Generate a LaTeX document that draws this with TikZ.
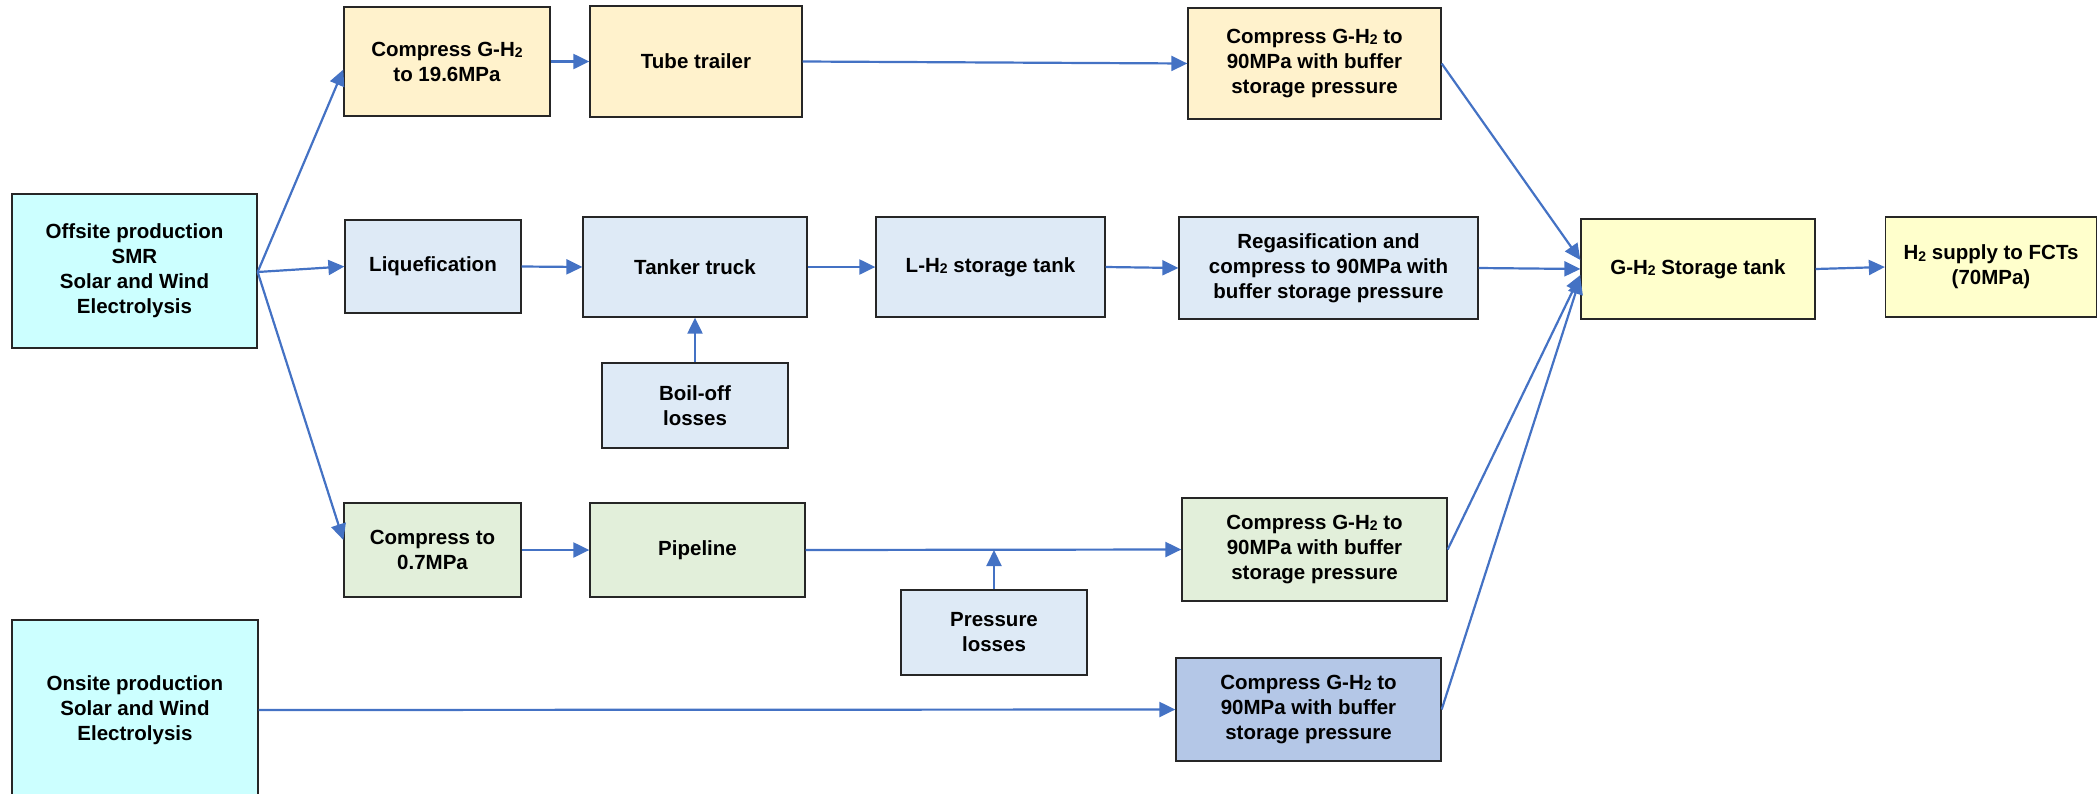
\documentclass[tikz,border=0pt]{standalone}
\usepackage{fontspec}
\setmainfont{Liberation Sans}
\usetikzlibrary{arrows.meta,calc}
\definecolor{arrowblue}{HTML}{4472C4}
\definecolor{cyanbg}{HTML}{CCFFFF}
\definecolor{yellowbg}{HTML}{FFF2CC}
\definecolor{lbluebg}{HTML}{DEEAF6}
\definecolor{greenbg}{HTML}{E2EFDA}
\definecolor{bluebg}{HTML}{B4C7E7}
\definecolor{lyellowbg}{HTML}{FFFFCC}
\newcommand{\Htwo}{H\raisebox{-1.5pt}{\fontsize{14}{14}\selectfont 2}}
\begin{document}
\begin{tikzpicture}[x=1pt,y=-1pt,
  box/.style={draw=black!85, line width=1.3pt, align=center, inner sep=0pt,
    font=\fontsize{20.5}{25}\selectfont\bfseries},
  conn/.style={draw=arrowblue, line width=2.2pt, -{Triangle[length=16pt,width=15pt]}}]
\useasboundingbox (0,0) rectangle (2099,793);
% nodes
\node[box, fill=cyanbg, minimum width=245pt, minimum height=154pt] (off) at (134.5,271)
  {Offsite production\\SMR\\Solar and Wind\\Electrolysis};
\node[box, fill=yellowbg, minimum width=206pt, minimum height=109pt] (c196) at (447,61.5)
  {Compress G-\Htwo\\to 19.6MPa};
\node[box, fill=yellowbg, minimum width=212pt, minimum height=111pt] (tube) at (696,61.5)
  {Tube trailer};
\node[box, fill=yellowbg, minimum width=253pt, minimum height=111pt] (cy) at (1314.5,63.5)
  {Compress G-\Htwo{} to\\90MPa with buffer\\storage pressure};
\node[box, fill=lbluebg, minimum width=176pt, minimum height=93pt] (liq) at (433,266.5)
  {Liquefication};
\node[box, fill=lbluebg, minimum width=224pt, minimum height=100pt] (tank) at (695,267)
  {Tanker truck};
\node[box, fill=lbluebg, minimum width=229pt, minimum height=100pt] (lh2) at (990.5,267)
  {L-\Htwo{} storage tank};
\node[box, fill=lbluebg, minimum width=299pt, minimum height=102pt] (regas) at (1328.5,268)
  {Regasification and\\compress to 90MPa with\\buffer storage pressure};
\node[box, fill=lyellowbg, minimum width=234pt, minimum height=100pt] (gst) at (1698,269)
  {G-\Htwo{} Storage tank};
\node[box, fill=lyellowbg, minimum width=211pt, minimum height=100pt] (sup) at (1991,267)
  {\Htwo{} supply to FCTs\\(70MPa)};
\node[box, fill=lbluebg, minimum width=186pt, minimum height=85pt] (boil) at (695,405.5)
  {Boil-off\\losses};
\node[box, fill=greenbg, minimum width=177pt, minimum height=94pt] (c07) at (432.5,550)
  {Compress to\\0.7MPa};
\node[box, fill=greenbg, minimum width=215pt, minimum height=94pt] (pipe) at (697.5,550)
  {Pipeline};
\node[box, fill=greenbg, minimum width=265pt, minimum height=103pt] (cg) at (1314.5,549.5)
  {Compress G-\Htwo{} to\\90MPa with buffer\\storage pressure};
\node[box, fill=lbluebg, minimum width=186pt, minimum height=85pt] (press) at (994,632.5)
  {Pressure\\losses};
\node[box, fill=cyanbg, minimum width=246pt, minimum height=180pt] (on) at (135,710)
  {Onsite production\\Solar and Wind\\Electrolysis};
\node[box, fill=bluebg, minimum width=265pt, minimum height=103pt] (cb) at (1308.5,709.5)
  {Compress G-\Htwo{} to\\90MPa with buffer\\storage pressure};
\coordinate (pj) at (press.north |- pipe.east);
% connectors
\draw[conn] ([yshift=-1pt]off.east) -- ([yshift=-8pt]c196.west);
\draw[conn] ([yshift=-1pt]off.east) -- (liq.west);
\draw[conn] ([yshift=-1pt]off.east) -- ([yshift=10pt]c07.west);
\draw[conn] (c196.east) -- (tube.west);
\draw[conn] (tube.east) -- (cy.west);
\draw[conn] (liq.east) -- (tank.west);
\draw[conn] (tank.east) -- (lh2.west);
\draw[conn] (lh2.east) -- (regas.west);
\draw[conn] (regas.east) -- (gst.west);
\draw[conn] (gst.east) -- (sup.west);
\draw[conn] (boil.north) -- (tank.south);
\draw[conn] (c07.east) -- (pipe.west);
\draw[conn] (pipe.east) -- (cg.west);
\draw[conn] (press.north) -- (pj);
\draw[conn] (on.east) -- (cb.west);
\draw[conn] (cy.east) -- ([yshift=9pt]gst.west);
\draw[conn] (cg.east) -- ([yshift=-6pt]gst.west);
\draw[conn] (cb.east) -- ([yshift=-9pt]gst.west);
\end{tikzpicture}
\end{document}
